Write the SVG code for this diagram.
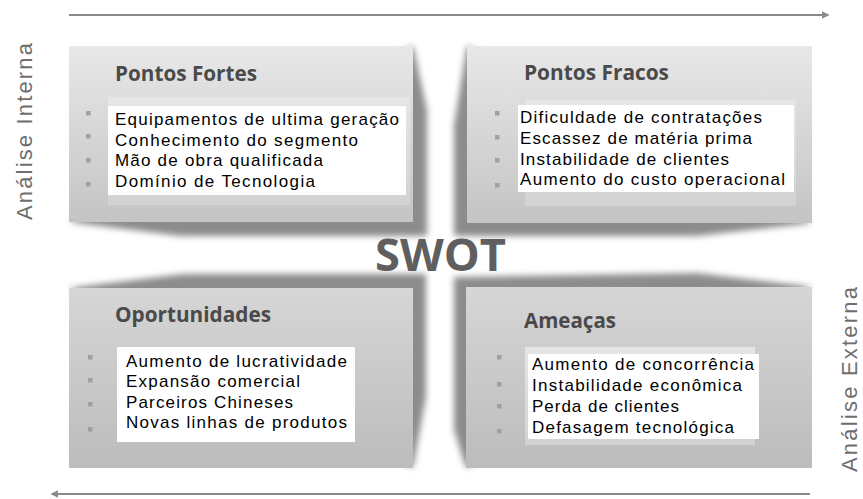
<svg xmlns="http://www.w3.org/2000/svg" width="863" height="499" viewBox="0 0 863 499">
<defs>
<linearGradient id="gTop" x1="0" y1="0" x2="0" y2="1">
<stop offset="0" stop-color="#e8e8e8"/><stop offset="1" stop-color="#c4c4c4"/>
</linearGradient>
<linearGradient id="gBot" x1="0" y1="0" x2="0" y2="1">
<stop offset="0" stop-color="#d6d6d6"/><stop offset="1" stop-color="#bcbcbc"/>
</linearGradient>
<linearGradient id="gInner" x1="0" y1="0" x2="0" y2="1">
<stop offset="0" stop-color="#e6e6e6"/><stop offset="1" stop-color="#d2d2d2"/>
</linearGradient>
<filter id="blur" x="-10%" y="-10%" width="120%" height="120%"><feGaussianBlur stdDeviation="3"/></filter>
<marker id="ah" viewBox="0 0 10 10" refX="8" refY="5" markerWidth="4" markerHeight="4" orient="auto-start-reverse">
<path d="M0,0 L10,5 L0,10 z" fill="#8a8a8a"/>
</marker>
<style>
.shadow{fill:#8c8c8c;filter:url(#blur)}
.title{font-family:"Open Sans","Liberation Sans",sans-serif;font-weight:700;font-size:21px;fill:#4a4a4a}
.item{font-family:"Liberation Sans",Arial,sans-serif;font-size:17px;fill:#000000}
.bullet{fill:#a0a0a0}
.axis{font-family:"Liberation Sans",Arial,sans-serif;font-size:22px;fill:#6e6e6e}
.arrow{stroke:#8a8a8a;stroke-width:2;fill:none}
</style>
</defs>
<rect width="863" height="499" fill="#ffffff"/>

<g id="connectors">
<line class="arrow" x1="69" y1="15" x2="828" y2="15" marker-end="url(#ah)"/>
<line class="arrow" x1="810" y1="494" x2="52" y2="494" marker-end="url(#ah)"/>
</g>

<g id="pontos-fortes">
<polygon class="shadow" points="69,222 180,236 427,236 427,110 413,46"/>
<rect x="69" y="46" width="344" height="176" fill="url(#gTop)"/>
<text class="title" x="115" y="81" textLength="142" lengthAdjust="spacingAndGlyphs">Pontos Fortes</text>
<rect x="108" y="97" width="302" height="108" fill="url(#gInner)"/>
<rect x="108" y="106" width="298" height="89" fill="#ffffff"/>
<rect class="bullet" x="86" y="111" width="4.5" height="4.5"/>
<rect class="bullet" x="86" y="134" width="4.5" height="4.5"/>
<rect class="bullet" x="86" y="158" width="4.5" height="4.5"/>
<rect class="bullet" x="86" y="182" width="4.5" height="4.5"/>
<text class="item" x="115" y="125" textLength="284" lengthAdjust="spacing">Equipamentos de ultima geração</text>
<text class="item" x="115" y="146" textLength="243" lengthAdjust="spacing">Conhecimento do segmento</text>
<text class="item" x="115" y="166" textLength="208" lengthAdjust="spacing">Mão de obra qualificada</text>
<text class="item" x="115" y="186.5" textLength="200" lengthAdjust="spacing">Domínio de Tecnologia</text>
</g>

<g id="pontos-fracos">
<polygon class="shadow" points="467,46 454,125 454,236 697,236 812,223"/>
<rect x="467" y="46" width="345" height="177" fill="url(#gTop)"/>
<text class="title" x="524" y="80" textLength="145" lengthAdjust="spacingAndGlyphs">Pontos Fracos</text>
<rect x="525" y="100" width="271" height="106" fill="url(#gInner)"/>
<rect x="518" y="105" width="276" height="87" fill="#ffffff"/>
<rect class="bullet" x="495" y="111" width="4.5" height="4.5"/>
<rect class="bullet" x="495" y="135" width="4.5" height="4.5"/>
<rect class="bullet" x="495" y="158" width="4.5" height="4.5"/>
<rect class="bullet" x="495" y="183" width="4.5" height="4.5"/>
<text class="item" x="520" y="123" textLength="242" lengthAdjust="spacing">Dificuldade de contratações</text>
<text class="item" x="520" y="144" textLength="232" lengthAdjust="spacing">Escassez de matéria prima</text>
<text class="item" x="520" y="165" textLength="209" lengthAdjust="spacing">Instabilidade de clientes</text>
<text class="item" x="520" y="185" textLength="265" lengthAdjust="spacing">Aumento do custo operacional</text>
</g>

<g id="oportunidades">
<polygon class="shadow" points="69,288 183,274 426,274 426,397 413,468"/>
<rect x="69" y="288" width="344" height="180" fill="url(#gBot)"/>
<text class="title" x="115" y="322" textLength="156" lengthAdjust="spacingAndGlyphs">Oportunidades</text>
<rect x="117" y="347" width="238" height="95" fill="#ffffff"/>
<rect class="bullet" x="88" y="355" width="4.5" height="4.5"/>
<rect class="bullet" x="88" y="378" width="4.5" height="4.5"/>
<rect class="bullet" x="88" y="402" width="4.5" height="4.5"/>
<rect class="bullet" x="88" y="427" width="4.5" height="4.5"/>
<text class="item" x="126" y="367" textLength="221" lengthAdjust="spacing">Aumento de lucratividade</text>
<text class="item" x="126" y="387" textLength="174" lengthAdjust="spacing">Expansão comercial</text>
<text class="item" x="126" y="408" textLength="167" lengthAdjust="spacing">Parceiros Chineses</text>
<text class="item" x="126" y="428" textLength="221" lengthAdjust="spacing">Novas linhas de produtos</text>
</g>

<g id="ameacas">
<polygon class="shadow" points="466,468 454,430 454,277 697,273 812,287"/>
<rect x="466" y="287" width="346" height="181" fill="url(#gBot)"/>
<text class="title" x="524" y="328" textLength="92" lengthAdjust="spacingAndGlyphs">Ameaças</text>
<rect x="525" y="347" width="230" height="98" fill="url(#gInner)"/>
<rect x="528" y="354" width="231" height="85" fill="#ffffff"/>
<rect class="bullet" x="497" y="355" width="4.5" height="4.5"/>
<rect class="bullet" x="497" y="382" width="4.5" height="4.5"/>
<rect class="bullet" x="497" y="404" width="4.5" height="4.5"/>
<rect class="bullet" x="497" y="429" width="4.5" height="4.5"/>
<text class="item" x="532" y="370" textLength="222" lengthAdjust="spacing">Aumento de concorrência</text>
<text class="item" x="532" y="391" textLength="210" lengthAdjust="spacing">Instabilidade econômica</text>
<text class="item" x="532" y="412" textLength="147" lengthAdjust="spacing">Perda de clientes</text>
<text class="item" x="532" y="433" textLength="202" lengthAdjust="spacing">Defasagem tecnológica</text>
</g>

<g id="swot">
<text x="375" y="271" textLength="131" lengthAdjust="spacingAndGlyphs" style="font-family:'Open Sans','Liberation Sans',sans-serif;font-weight:700;font-size:44px;fill:#5f5f5f">SWOT</text>
</g>

<g id="analise-interna">
<text class="axis" transform="translate(32,220) rotate(-90)" x="0" y="0" textLength="177" lengthAdjust="spacing">Análise Interna</text>
</g>
<g id="analise-externa">
<text class="axis" transform="translate(857,472) rotate(-90)" x="0" y="0" textLength="185" lengthAdjust="spacing">Análise Externa</text>
</g>
</svg>
